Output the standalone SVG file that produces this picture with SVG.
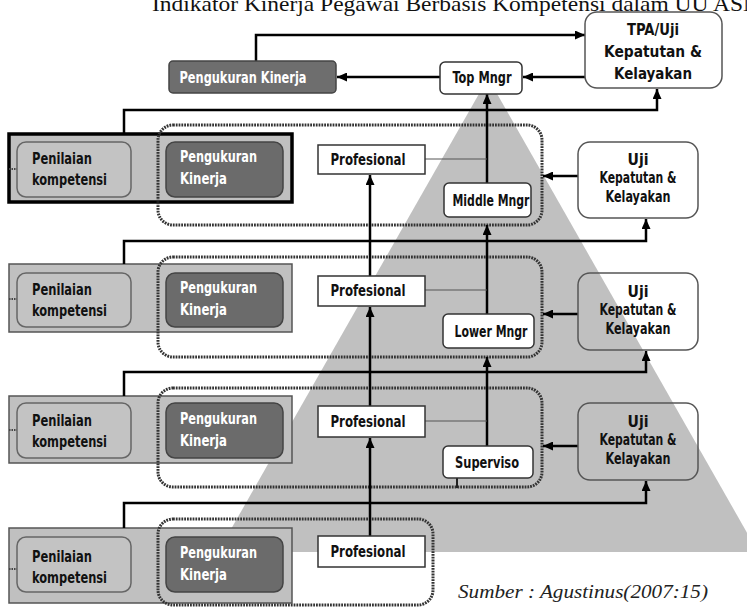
<svg xmlns="http://www.w3.org/2000/svg" width="747" height="607" viewBox="0 0 747 607">
<defs>
<marker id="ah" markerUnits="userSpaceOnUse" markerWidth="10" markerHeight="9" refX="10" refY="4.5" orient="auto">
<path d="M0,0 L10,4.5 L0,9 z" fill="#000"/>
</marker>
<style>
.lbl{font-family:"DejaVu Sans Condensed","DejaVu Sans",sans-serif;font-weight:bold;font-size:16px;}
.sm{font-size:15px;}
.w{fill:#fff;}
.k{fill:#111;}
.con{stroke:#000;stroke-width:2.5;fill:none;}
.thin{stroke:#555;stroke-width:1;fill:none;}
.dot{stroke:#333;stroke-width:3;fill:none;stroke-dasharray:1.8 1;}
.outer{fill:#c0c0c0;stroke:#555;stroke-width:1.5;}
.outer1{fill:#c0c0c0;stroke:#000;stroke-width:3.5;}
.pen{fill:#c3c3c3;stroke:#666;stroke-width:1.5;}
.ukur{fill:#6b6b6b;stroke:#444;stroke-width:1.5;}
.prof{fill:#fff;stroke:#333;stroke-width:1.5;}
.mgr{fill:#fff;stroke:#333;stroke-width:1.5;}
.uji{fill:none;stroke:#555;stroke-width:1.5;}
.stub{stroke:#444;stroke-width:2;stroke-dasharray:1.5 1;}
</style>
</defs>
<rect width="747" height="607" fill="#fff"/>
<text x="152" y="11" font-family="Liberation Serif, serif" font-size="22" fill="#111" textLength="608" lengthAdjust="spacingAndGlyphs">Indikator Kinerja Pegawai Berbasis Kompetensi dalam UU ASN</text>
<polygon id="pyramid" points="488,78 218,552 758,552" fill="#c0c0c0"/>

<g id="row1-left">
<rect class="outer1" x="9" y="134" width="283" height="68"/>
<line class="stub" x1="9" y1="169" x2="17" y2="169"/>
<rect class="pen" x="17" y="142" width="114" height="55" rx="9"/>
<text class="lbl k" x="32" y="164" textLength="60" lengthAdjust="spacingAndGlyphs">Penilaian</text>
<text class="lbl k" x="32" y="185" textLength="75" lengthAdjust="spacingAndGlyphs">kompetensi</text>
<rect class="ukur" x="166" y="142" width="117" height="55" rx="9"/>
<text class="lbl w" x="180" y="162" textLength="77" lengthAdjust="spacingAndGlyphs">Pengukuran</text>
<text class="lbl w" x="180" y="184" textLength="47" lengthAdjust="spacingAndGlyphs">Kinerja</text>
</g>
<g id="row2-left">
<rect class="outer" x="9" y="264" width="283" height="68"/>
<line class="stub" x1="9" y1="299" x2="17" y2="299"/>
<rect class="pen" x="17" y="273" width="114" height="54" rx="9"/>
<text class="lbl k" x="32" y="295" textLength="60" lengthAdjust="spacingAndGlyphs">Penilaian</text>
<text class="lbl k" x="32" y="316" textLength="75" lengthAdjust="spacingAndGlyphs">kompetensi</text>
<rect class="ukur" x="166" y="273" width="117" height="54" rx="9"/>
<text class="lbl w" x="180" y="293" textLength="77" lengthAdjust="spacingAndGlyphs">Pengukuran</text>
<text class="lbl w" x="180" y="315" textLength="47" lengthAdjust="spacingAndGlyphs">Kinerja</text>
</g>
<g id="row3-left">
<rect class="outer" x="9" y="396" width="283" height="67"/>
<line class="stub" x1="9" y1="430" x2="17" y2="430"/>
<rect class="pen" x="17" y="403" width="114" height="55" rx="9"/>
<text class="lbl k" x="32" y="426" textLength="60" lengthAdjust="spacingAndGlyphs">Penilaian</text>
<text class="lbl k" x="32" y="447" textLength="75" lengthAdjust="spacingAndGlyphs">kompetensi</text>
<rect class="ukur" x="166" y="403" width="117" height="55" rx="9"/>
<text class="lbl w" x="180" y="424" textLength="77" lengthAdjust="spacingAndGlyphs">Pengukuran</text>
<text class="lbl w" x="180" y="446" textLength="47" lengthAdjust="spacingAndGlyphs">Kinerja</text>
</g>
<g id="row4-left">
<rect class="outer" x="9" y="528" width="283" height="75"/>
<line class="stub" x1="9" y1="569" x2="17" y2="569"/>
<rect class="pen" x="17" y="537" width="114" height="55" rx="9"/>
<text class="lbl k" x="32" y="562" textLength="60" lengthAdjust="spacingAndGlyphs">Penilaian</text>
<text class="lbl k" x="32" y="583" textLength="75" lengthAdjust="spacingAndGlyphs">kompetensi</text>
<rect class="ukur" x="166" y="537" width="117" height="55" rx="9"/>
<text class="lbl w" x="180" y="558" textLength="77" lengthAdjust="spacingAndGlyphs">Pengukuran</text>
<text class="lbl w" x="180" y="580" textLength="47" lengthAdjust="spacingAndGlyphs">Kinerja</text>
</g>

<g id="level1"><rect class="dot" x="158" y="125" width="384" height="100" rx="15"/></g>
<g id="level2"><rect class="dot" x="158" y="257" width="384" height="100" rx="15"/></g>
<g id="level3"><rect class="dot" x="158" y="388" width="384" height="99" rx="15"/></g>
<g id="level4"><rect class="dot" x="158" y="519" width="275" height="86" rx="15"/></g>

<g id="connectors">
<polyline class="con" points="256,61 256,35 585,35" marker-end="url(#ah)"/>
<line class="con" x1="585" y1="77" x2="523" y2="77" marker-end="url(#ah)"/>
<line class="con" x1="440" y1="77" x2="337" y2="77" marker-end="url(#ah)"/>
<polyline class="con" points="124,134 124,110 657,110 657,89" marker-end="url(#ah)"/>
<polyline class="con" points="124,264 124,241 646,241 646,219" marker-end="url(#ah)"/>
<polyline class="con" points="124,396 124,372 646,372 646,351" marker-end="url(#ah)"/>
<polyline class="con" points="124,528 124,503 646,503 646,481" marker-end="url(#ah)"/>
<line class="con" x1="578" y1="176" x2="543" y2="176" marker-end="url(#ah)"/>
<line class="con" x1="578" y1="314" x2="543" y2="314" marker-end="url(#ah)"/>
<line class="con" x1="578" y1="446" x2="543" y2="446" marker-end="url(#ah)"/>
<line class="con" x1="370" y1="276" x2="370" y2="175" marker-end="url(#ah)"/>
<line class="con" x1="370" y1="406" x2="370" y2="307" marker-end="url(#ah)"/>
<line class="con" x1="370" y1="536" x2="370" y2="438" marker-end="url(#ah)"/>
<line class="con" x1="487" y1="183" x2="487" y2="94" marker-end="url(#ah)"/>
<line class="con" x1="487" y1="314" x2="487" y2="225" marker-end="url(#ah)"/>
<line class="con" x1="487" y1="446" x2="487" y2="357" marker-end="url(#ah)"/>
<line class="thin" x1="425" y1="159" x2="487" y2="159"/>
<line class="thin" x1="425" y1="290" x2="487" y2="290"/>
<line class="thin" x1="425" y1="421" x2="487" y2="421"/>
<line x1="457" y1="478" x2="457" y2="488" stroke="#222" stroke-width="2"/>
</g>

<g id="pengukuran-top">
<rect x="169" y="61" width="167" height="32" rx="4" fill="#6e6e6e" stroke="#444" stroke-width="1.5"/>
<text class="lbl w" x="243" y="83" text-anchor="middle" textLength="127" lengthAdjust="spacingAndGlyphs">Pengukuran Kinerja</text>
</g>
<g id="top-mngr">
<rect class="mgr" x="440" y="62" width="82" height="32" rx="5"/>
<text class="lbl k" x="482" y="83" text-anchor="middle" textLength="59" lengthAdjust="spacingAndGlyphs">Top Mngr</text>
</g>
<g id="tpa">
<rect x="585" y="12" width="137" height="76" rx="12" fill="#fff" stroke="#555" stroke-width="1.5"/>
<text class="lbl k" x="653" y="35" text-anchor="middle" font-size="16" textLength="52" lengthAdjust="spacingAndGlyphs">TPA/Uji</text>
<text class="lbl k" x="653" y="57" text-anchor="middle" font-size="16" textLength="98" lengthAdjust="spacingAndGlyphs">Kepatutan &amp;</text>
<text class="lbl k" x="653" y="79" text-anchor="middle" font-size="16" textLength="78" lengthAdjust="spacingAndGlyphs">Kelayakan</text>
</g>
<g id="uji1">
<rect class="uji" x="578" y="142" width="120" height="76" rx="12" style="fill:#fff"/>
<text class="lbl sm k" x="638" y="165" text-anchor="middle" textLength="21" lengthAdjust="spacingAndGlyphs">Uji</text>
<text class="lbl sm k" x="638" y="183" text-anchor="middle" textLength="77" lengthAdjust="spacingAndGlyphs">Kepatutan &amp;</text>
<text class="lbl sm k" x="638" y="202" text-anchor="middle" textLength="65" lengthAdjust="spacingAndGlyphs">Kelayakan</text>
</g>
<g id="uji2">
<rect class="uji" x="578" y="273" width="120" height="77" rx="12"/>
<text class="lbl sm k" x="638" y="297" text-anchor="middle" textLength="21" lengthAdjust="spacingAndGlyphs">Uji</text>
<text class="lbl sm k" x="638" y="315" text-anchor="middle" textLength="77" lengthAdjust="spacingAndGlyphs">Kepatutan &amp;</text>
<text class="lbl sm k" x="638" y="334" text-anchor="middle" textLength="65" lengthAdjust="spacingAndGlyphs">Kelayakan</text>
</g>
<g id="uji3">
<rect class="uji" x="578" y="403" width="120" height="77" rx="12"/>
<text class="lbl sm k" x="638" y="427" text-anchor="middle" textLength="21" lengthAdjust="spacingAndGlyphs">Uji</text>
<text class="lbl sm k" x="638" y="445" text-anchor="middle" textLength="77" lengthAdjust="spacingAndGlyphs">Kepatutan &amp;</text>
<text class="lbl sm k" x="638" y="464" text-anchor="middle" textLength="65" lengthAdjust="spacingAndGlyphs">Kelayakan</text>
</g>
<g id="prof1"><rect class="prof" x="318" y="145" width="107" height="29"/><text class="lbl k" x="368" y="165" text-anchor="middle" textLength="75" lengthAdjust="spacingAndGlyphs">Profesional</text></g>
<g id="prof2"><rect class="prof" x="318" y="276" width="107" height="30"/><text class="lbl k" x="368" y="296" text-anchor="middle" textLength="75" lengthAdjust="spacingAndGlyphs">Profesional</text></g>
<g id="prof3"><rect class="prof" x="318" y="406" width="107" height="31"/><text class="lbl k" x="368" y="427" text-anchor="middle" textLength="75" lengthAdjust="spacingAndGlyphs">Profesional</text></g>
<g id="prof4"><rect class="prof" x="318" y="536" width="107" height="31"/><text class="lbl k" x="368" y="557" text-anchor="middle" textLength="75" lengthAdjust="spacingAndGlyphs">Profesional</text></g>
<g id="middle-mngr"><rect class="mgr" x="444" y="183" width="87" height="34" rx="5"/><text class="lbl k" x="491" y="206" text-anchor="middle" textLength="77" lengthAdjust="spacingAndGlyphs">Middle Mngr</text></g>
<g id="lower-mngr"><rect class="mgr" x="443" y="314" width="91" height="34" rx="5"/><text class="lbl k" x="491" y="337" text-anchor="middle" textLength="73" lengthAdjust="spacingAndGlyphs">Lower Mngr</text></g>
<g id="supervisor"><rect class="mgr" x="443" y="446" width="90" height="32" rx="5"/><text class="lbl k" x="487" y="468" text-anchor="middle" textLength="64" lengthAdjust="spacingAndGlyphs">Superviso</text></g>

<text x="458" y="598" font-family="Liberation Serif, serif" font-style="italic" font-size="19" fill="#222" textLength="250" lengthAdjust="spacingAndGlyphs">Sumber : Agustinus(2007:15)</text>
</svg>
